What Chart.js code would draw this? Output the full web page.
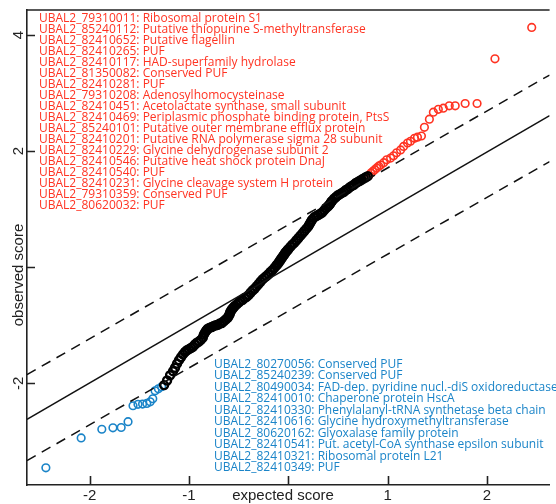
<!DOCTYPE html>
<html>
<head>
  <meta charset="UTF-8">
  <title>QQ plot</title>
  <script src="https://cdn.jsdelivr.net/npm/chart.js"></script>
  <style>
    body { margin: 0; background: #fff; }
    #wrap { width: 556px; height: 504px; }
  </style>
</head>
<body>
<div id="wrap"><canvas id="qq" width="556" height="504"></canvas></div>
<script>
// reference lines (expected vs observed)
const refX = [-2.63, 2.63];
const refY = [-2.62, 2.61];
const upperY = [-1.85, 3.31];
const lowerY = [-3.33, 1.82];

// tick values
const xTicks = [-2, -1, 0, 1, 2];
const yTicks = [-2, 0, 2, 4];

// low outliers (blue)
const blueX = [-2.44, -2.085, -1.877, -1.765, -1.682, -1.613, -1.563, -1.513, -1.467, -1.424, -1.39, -1.364, -1.341, -1.308, -1.275];
const blueY = [-3.455, -2.94, -2.79, -2.765, -2.76, -2.66, -2.385, -2.36, -2.357, -2.345, -2.317, -2.265, -2.128, -2.093, -2.058];

// bulk of genes (black)
const blackX = [-1.25, -1.22, -1.19, -1.16, -1.14, -1.12, -1.10, -1.08, -1.06, -1.04, -1.02, -1.00, -0.98, -0.96, -0.94, -0.92, -0.90, -0.88, -0.86, -0.85, -0.84, -0.83, -0.82, -0.81, -0.79, -0.77, -0.75, -0.73, -0.71, -0.69, -0.67, -0.65, -0.63, -0.61, -0.60, -0.59, -0.585, -0.58, -0.57, -0.56, -0.55, -0.54, -0.52, -0.50, -0.48, -0.46, -0.44, -0.42, -0.40, -0.38, -0.36, -0.34, -0.32, -0.30, -0.28, -0.26, -0.24, -0.22, -0.20, -0.18, -0.16, -0.14, -0.12, -0.11, -0.10, -0.09, -0.08, -0.07, -0.06, -0.05, -0.04, -0.03, -0.02, -0.01, 0.00, 0.02, 0.04, 0.06, 0.08, 0.10, 0.12, 0.14, 0.16, 0.18, 0.20, 0.21, 0.22, 0.23, 0.24, 0.26, 0.28, 0.30, 0.32, 0.34, 0.36, 0.38, 0.40, 0.41, 0.42, 0.43, 0.44, 0.46, 0.48, 0.50, 0.52, 0.54, 0.56, 0.58, 0.60, 0.62, 0.64, 0.66, 0.68, 0.70, 0.72, 0.74, 0.76, 0.78, 0.80];
const blackY = [-2.03, -1.95, -1.86, -1.79, -1.73, -1.66, -1.60, -1.55, -1.50, -1.46, -1.43, -1.41, -1.39, -1.37, -1.33, -1.30, -1.28, -1.25, -1.21, -1.16, -1.13, -1.10, -1.08, -1.06, -1.04, -1.03, -1.01, -1.00, -0.99, -0.97, -0.96, -0.93, -0.90, -0.87, -0.84, -0.81, -0.78, -0.76, -0.73, -0.71, -0.69, -0.67, -0.64, -0.61, -0.58, -0.56, -0.53, -0.51, -0.48, -0.44, -0.40, -0.37, -0.33, -0.29, -0.25, -0.21, -0.18, -0.15, -0.12, -0.08, -0.05, -0.01, 0.03, 0.05, 0.07, 0.10, 0.12, 0.15, 0.17, 0.20, 0.22, 0.25, 0.27, 0.29, 0.31, 0.35, 0.39, 0.42, 0.46, 0.50, 0.54, 0.58, 0.62, 0.66, 0.70, 0.73, 0.76, 0.79, 0.82, 0.86, 0.88, 0.90, 0.92, 0.94, 0.98, 1.02, 1.05, 1.07, 1.09, 1.12, 1.14, 1.18, 1.21, 1.24, 1.26, 1.28, 1.30, 1.33, 1.35, 1.38, 1.40, 1.42, 1.45, 1.47, 1.49, 1.51, 1.53, 1.55, 1.57];

// high outliers (red)
const redX = [0.81, 0.83, 0.85, 0.87, 0.89, 0.91, 0.93, 0.96, 0.99, 1.03, 1.06, 1.09, 1.13, 1.16, 1.20, 1.23, 1.27, 1.30, 1.34, 1.37, 1.42, 1.46, 1.51, 1.56, 1.62, 1.68, 1.78, 1.90, 2.08, 2.45];
const redY = [1.58, 1.62, 1.65, 1.68, 1.71, 1.74, 1.76, 1.80, 1.85, 1.88, 1.92, 1.97, 2.02, 2.08, 2.14, 2.17, 2.22, 2.24, 2.26, 2.41, 2.55, 2.67, 2.72, 2.74, 2.78, 2.78, 2.82, 2.82, 3.59, 4.13];

const redLabels = [
  "UBAL2_79310011: Ribosomal protein S1",
  "UBAL2_85240112: Putative thiopurine S-methyltransferase",
  "UBAL2_82410652: Putative flagellin",
  "UBAL2_82410265: PUF",
  "UBAL2_82410117: HAD-superfamily hydrolase",
  "UBAL2_81350082: Conserved PUF",
  "UBAL2_82410281: PUF",
  "UBAL2_79310208: Adenosylhomocysteinase",
  "UBAL2_82410451: Acetolactate synthase, small subunit",
  "UBAL2_82410469: Periplasmic phosphate binding protein, PtsS",
  "UBAL2_85240101: Putative outer membrane efflux protein",
  "UBAL2_82410201: Putative RNA polymerase sigma 28 subunit",
  "UBAL2_82410229: Glycine dehydrogenase subunit 2",
  "UBAL2_82410546: Putative heat shock protein DnaJ",
  "UBAL2_82410540: PUF",
  "UBAL2_82410231: Glycine cleavage system H protein",
  "UBAL2_79310359: Conserved PUF",
  "UBAL2_80620032: PUF"
];
const blueLabels = [
  "UBAL2_80270056: Conserved PUF",
  "UBAL2_85240239: Conserved PUF",
  "UBAL2_80490034: FAD-dep. pyridine nucl.-diS oxidoreductase",
  "UBAL2_82410010: Chaperone protein HscA",
  "UBAL2_82410330: Phenylalanyl-tRNA synthetase beta chain",
  "UBAL2_82410616: Glycine hydroxymethyltransferase",
  "UBAL2_80620162: Glyoxalase family protein",
  "UBAL2_82410541: Put. acetyl-CoA synthase epsilon subunit",
  "UBAL2_82410321: Ribosomal protein L21",
  "UBAL2_82410349: PUF"
];

const RED = "#ff3322";
const BLUE = "#1a84c8";
const AXIS = "#222";

function pts(xs, ys) {
  return xs.map((x, i) => ({ x: x, y: ys[i] }));
}

function lineSet(ys, dash) {
  return {
    type: "line",
    data: pts(refX, ys),
    borderColor: "#111",
    borderWidth: 1.5,
    borderDash: dash,
    pointRadius: 0,
    fill: false
  };
}

function pointSet(xs, ys, color, r, w) {
  return {
    data: pts(xs, ys),
    borderColor: color,
    backgroundColor: "rgba(0,0,0,0)",
    pointRadius: r,
    borderWidth: w
  };
}

// frame, inward ticks, tick labels, titles and gene lists
const decor = {
  id: "decor",
  afterDraw(chart) {
    const ctx = chart.ctx;
    const a = chart.chartArea;
    const xs = chart.scales.x, ys = chart.scales.y;
    ctx.save();
    ctx.strokeStyle = AXIS;
    ctx.lineWidth = 1.6;
    ctx.beginPath();
    ctx.moveTo(a.left, a.top);
    ctx.lineTo(a.right, a.top);
    xTicks.forEach(v => {
      const p = Math.round(xs.getPixelForValue(v)) + 0.5;
      ctx.moveTo(p, a.bottom);
      ctx.lineTo(p, a.bottom - 9);
    });
    yTicks.forEach(v => {
      const p = Math.round(ys.getPixelForValue(v)) + 0.5;
      ctx.moveTo(a.left, p);
      ctx.lineTo(a.left + 8, p);
    });
    ctx.stroke();

    ctx.fillStyle = AXIS;
    ctx.font = "15px 'Liberation Sans', Arial, sans-serif";
    ctx.textAlign = "center";
    ctx.textBaseline = "middle";
    xTicks.forEach(v => {
      if (v === 0) return;
      ctx.fillText(String(v), xs.getPixelForValue(v), 496);
    });
    ctx.fillText("expected score", 283, 496);
    yTicks.forEach(v => {
      if (v === 0) return;
      ctx.save();
      ctx.translate(19, ys.getPixelForValue(v));
      ctx.rotate(-Math.PI / 2);
      ctx.fillText(String(v), 0, 0);
      ctx.restore();
    });
    ctx.save();
    ctx.translate(19, 275);
    ctx.rotate(-Math.PI / 2);
    ctx.fillText("observed score", 0, 0);
    ctx.restore();

    ctx.font = "12px 'Open Sans', sans-serif";
    ctx.textAlign = "left";
    ctx.fillStyle = RED;
    redLabels.forEach((t, i) => ctx.fillText(t, 39, 18.5 + i * 11.02));
    ctx.fillStyle = BLUE;
    blueLabels.forEach((t, i) => ctx.fillText(t, 214, 364.5 + i * 11.5));
    ctx.restore();
  }
};

new Chart(document.getElementById("qq"), {
  type: "scatter",
  data: {
    datasets: [
      lineSet(refY, []),
      lineSet(upperY, [10, 7]),
      lineSet(lowerY, [10, 7]),
      pointSet(blackX, blackY, "#000", 4, 2.4),
      pointSet(redX, redY, RED, 3.8, 1.6),
      pointSet(blueX, blueY, BLUE, 3.8, 1.6)
    ]
  },
  options: {
    responsive: false,
    animation: false,
    layout: { padding: { top: 10, right: 0, left: 0, bottom: 0 } },
    plugins: { legend: { display: false }, tooltip: { enabled: false } },
    scales: {
      x: {
        type: "linear",
        min: -2.63,
        max: 2.63,
        ticks: { display: false },
        grid: { display: false },
        border: { display: true, color: AXIS, width: 1.6 },
        afterFit(s) { s.height = 19; }
      },
      y: {
        type: "linear",
        min: -3.75,
        max: 4.43,
        ticks: { display: false },
        grid: { display: false },
        border: { display: true, color: AXIS, width: 1.6 },
        afterFit(s) { s.width = 27; }
      }
    }
  },
  plugins: [decor]
});
</script>
</body>
</html>
